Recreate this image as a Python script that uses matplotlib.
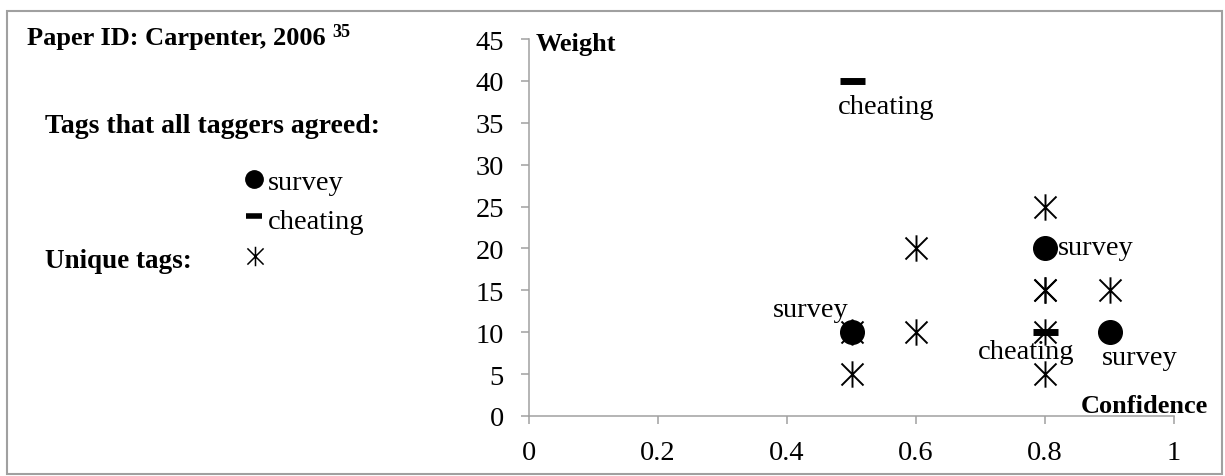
"""Confidence/weight scatter of tags for one paper."""
import matplotlib
matplotlib.use("Agg")
import matplotlib.pyplot as plt
from matplotlib.lines import Line2D
from matplotlib.patches import Rectangle
from matplotlib.path import Path

plt.rcParams['font.family'] = ['Liberation Serif', 'DejaVu Serif']

# data
unique_conf = [0.5, 0.5, 0.6, 0.6, 0.8, 0.8, 0.8, 0.8, 0.8, 0.9]
unique_weight = [10, 5, 20, 10, 25, 15, 15, 10, 5, 15]
survey_conf = [0.5, 0.8, 0.9]
survey_weight = [10, 20, 10]
cheat_conf = [0.5, 0.8]
cheat_weight = [40, 10]
x_ticks = [0, 0.2, 0.4, 0.6, 0.8, 1]
y_ticks = [0, 5, 10, 15, 20, 25, 30, 35, 40, 45]

W, H = 1225, 477
GRAY = '#a0a0a0'


def fx(px):
    return px / W


def fy(py):
    return 1 - py / H


# asterisk: x plus a vertical bar
star = Path([(-1, -1), (1, 1), (-1, 1), (1, -1), (0, -1.2), (0, 1.2)],
            [Path.MOVETO, Path.LINETO] * 3)

fig = plt.figure(figsize=(W / 100, H / 100), dpi=100)
ax = fig.add_axes([fx(529), fy(417), fx(1174) - fx(529), fy(40) - fy(417)])

ax.plot(unique_conf, unique_weight, ls='none', marker=star, ms=19,
        mfc='none', mec='black', mew=1.4)
ax.plot(survey_conf, survey_weight, ls='none', marker='o', ms=17,
        color='black')
ax.plot(cheat_conf, cheat_weight, ls='none', marker='_', ms=18, mew=5,
        color='black')

# point labels (offsets in pixels)
labels = [
    ('cheating', cheat_conf[0], cheat_weight[0], -14, -26, 'left'),
    ('survey', survey_conf[0], survey_weight[0], -3, 23, 'right'),
    ('survey', survey_conf[1], survey_weight[1], 13, 1, 'left'),
    ('cheating', cheat_conf[1], cheat_weight[1], -19, -19, 'center'),
    ('survey', survey_conf[2], survey_weight[2], 30, -25, 'center'),
]
for txt, x, y, dx, dy, ha in labels:
    ax.annotate(txt, (x, y), xytext=(dx, dy), textcoords='offset pixels',
                ha=ha, va='center', fontsize=20.5)

ax.set_xlim(0, 1)
ax.set_ylim(0, 45)
ax.set_xticks(x_ticks)
ax.set_xticklabels([f'{v:g}' for v in x_ticks])
ax.set_yticks(y_ticks)
ax.tick_params(axis='both', direction='out', length=6, width=1.1,
               color=GRAY, labelsize=20.5)
ax.tick_params(axis='x', pad=11)
ax.tick_params(axis='y', pad=12)
for s in ['top', 'right']:
    ax.spines[s].set_visible(False)
for s in ['left', 'bottom']:
    ax.spines[s].set_color(GRAY)
    ax.spines[s].set_linewidth(1.1)
ax.patch.set_visible(False)

fig.text(fx(536), fy(51), 'Weight', fontsize=19, fontweight='bold',
         va='baseline')
fig.text(fx(1208), fy(413), 'Confidence', fontsize=19, fontweight='bold',
         va='baseline', ha='right')

# side panel
fig.text(fx(27), fy(45), 'Paper ID: Carpenter, 2006', fontsize=19,
         fontweight='bold', va='baseline')
fig.text(fx(332), fy(37), '35', fontsize=13, fontweight='bold',
         va='baseline')
fig.text(fx(45), fy(133), 'Tags that all taggers agreed:', fontsize=20,
         fontweight='bold', va='baseline')
fig.text(fx(45), fy(268), 'Unique tags:', fontsize=19.5,
         fontweight='bold', va='baseline')
fig.text(fx(268), fy(190), 'survey', fontsize=20.5, va='baseline')
fig.text(fx(268), fy(229), 'cheating', fontsize=20.5, va='baseline')

fig.add_artist(Line2D([fx(254)], [fy(180)], transform=fig.transFigure,
                      ls='none', marker='o', ms=12.5, color='black'))
fig.add_artist(Line2D([fx(254)], [fy(217)], transform=fig.transFigure,
                      ls='none', marker='_', ms=12, mew=4, color='black'))
fig.add_artist(Line2D([fx(255)], [fy(257)], transform=fig.transFigure,
                      ls='none', marker=star, ms=14, mfc='none',
                      mec='black', mew=1.1))

fig.add_artist(Rectangle((fx(7), fy(475)), fx(1222) - fx(7),
                         fy(12) - fy(475), transform=fig.transFigure,
                         fill=False, edgecolor=GRAY, linewidth=1.5))

fig.savefig('out.png', dpi=100)
